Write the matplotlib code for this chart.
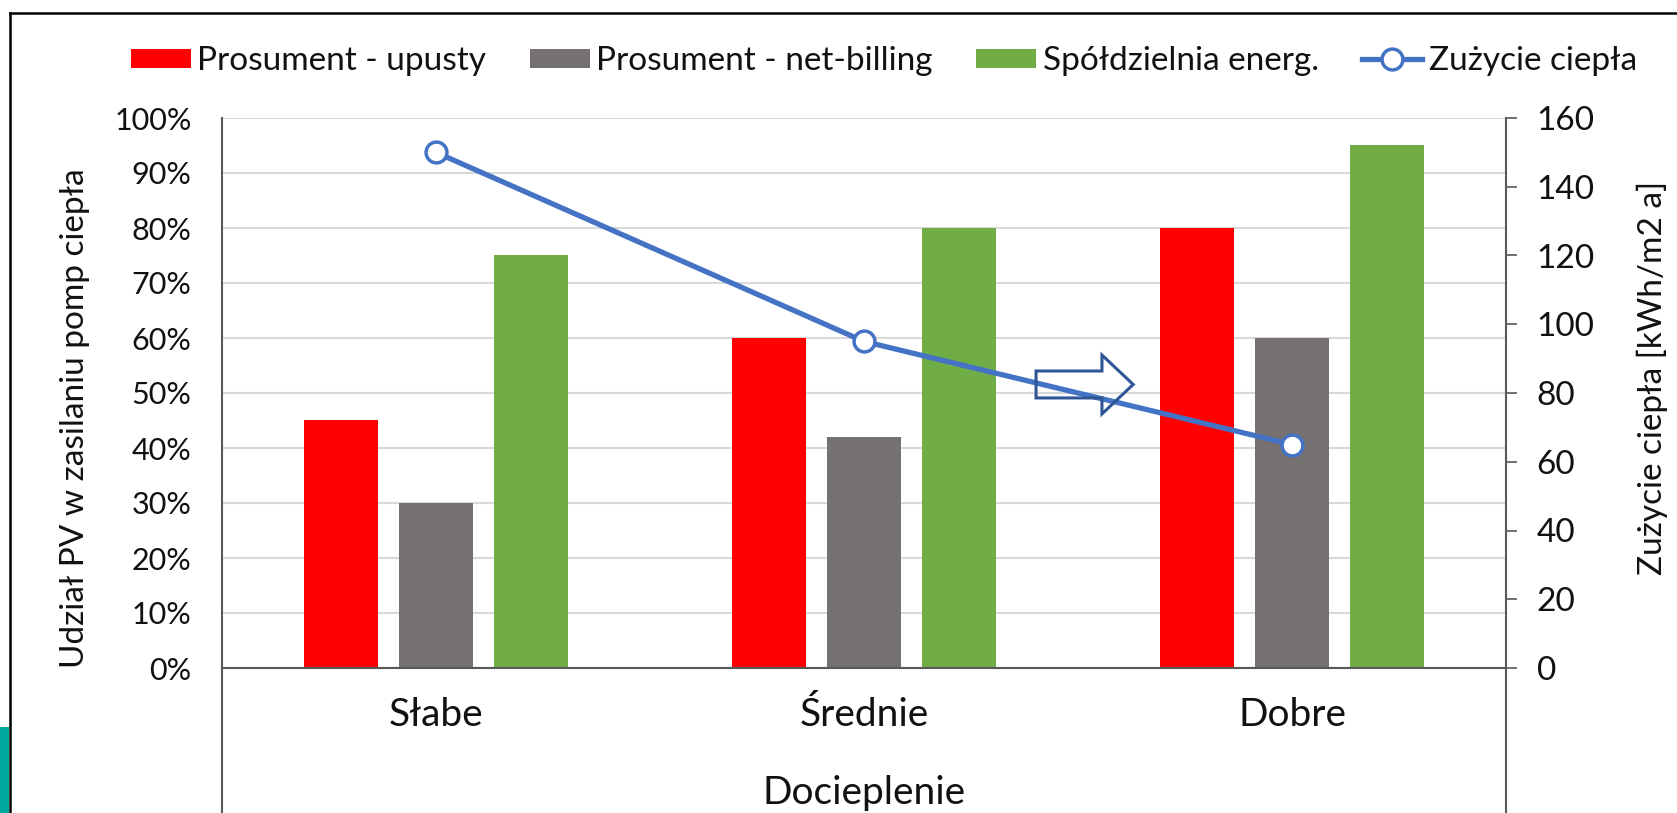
import matplotlib
matplotlib.use("Agg")
import matplotlib.pyplot as plt
import numpy as np
from matplotlib.lines import Line2D
from matplotlib.patches import Rectangle, FancyArrow, Patch
from matplotlib.ticker import FuncFormatter, MultipleLocator

plt.rcParams['font.family'] = ['Lato', 'DejaVu Sans']

categories = ["Słabe", "Średnie", "Dobre"]
prosument_upusty = [0.45, 0.60, 0.80]
prosument_netbilling = [0.30, 0.42, 0.60]
spoldzielnia = [0.75, 0.80, 0.95]
zuzycie_ciepla = [150, 95, 65]
series_names = ["Prosument - upusty", "Prosument - net-billing", "Spółdzielnia energ.", "Zużycie ciepła"]
colors = ["#FF0000", "#767171", "#70AD47"]
line_color = "#4472C4"

W, H = 1677, 813
fig = plt.figure(figsize=(W / 100, H / 100), dpi=100)
ax = fig.add_axes([222 / W, (H - 668) / H, (1506 - 222) / W, (668 - 118) / H])

x = np.arange(len(categories))
bw = 0.173
off = 0.222
for i, (vals, c) in enumerate(zip([prosument_upusty, prosument_netbilling, spoldzielnia], colors)):
    ax.bar(x + (i - 1) * off, vals, width=bw, color=c, zorder=2)

ax.set_xlim(-0.5, 2.5)
ax.set_ylim(0, 1.0)
ax.yaxis.set_major_locator(MultipleLocator(0.1))
ax.yaxis.set_major_formatter(FuncFormatter(lambda v, p: f"{int(round(v * 100))}%"))
ax.grid(axis='y', color='#D9D9D9', linewidth=1.5, zorder=0)
ax.set_axisbelow(True)
ax.set_xticks(x)
ax.set_xticklabels(categories, fontsize=28, color='#111111')
ax.tick_params(axis='x', length=0, pad=21)
ax.tick_params(axis='y', length=0, pad=22, labelsize=22, labelcolor='#111111')
ax.spines['top'].set_visible(False)
ax.spines['right'].set_visible(False)
for s in ['left', 'bottom']:
    ax.spines[s].set_color('#595959')
    ax.spines[s].set_linewidth(1.5)
ax.set_xlabel("Docieplenie", fontsize=28, color='#111111', labelpad=30)
ax.set_ylabel("Udział PV w zasilaniu pomp ciepła", fontsize=24, color='#111111', va='center')
ax.yaxis.set_label_coords((75 - 222) / (1506 - 222), 0.455)

# axis lines continuing below the plot area
ax.plot([0, 0], [0, -0.4], transform=ax.transAxes, color='#595959', lw=1.5, clip_on=False)
ax.plot([1, 1], [0, -0.4], transform=ax.transAxes, color='#595959', lw=1.5, clip_on=False)

ax2 = ax.twinx()
ax2.set_ylim(0, 160)
ax2.yaxis.set_major_locator(MultipleLocator(20))
ax2.plot(x, zuzycie_ciepla, color=line_color, lw=3.8, marker='o', markersize=15,
         markerfacecolor='white', markeredgecolor=line_color, markeredgewidth=2.5, zorder=5)
for s in ['top', 'left', 'bottom']:
    ax2.spines[s].set_visible(False)
ax2.spines['right'].set_color('#595959')
ax2.spines['right'].set_linewidth(1.5)
ax2.tick_params(axis='y', length=8, width=1.2, color='#595959', pad=14, labelsize=24, labelcolor='#111111')
ax2.set_ylabel("Zużycie ciepła [kWh/m2 a]", fontsize=24, color='#111111', va='center')
ax2.yaxis.set_label_coords((1652 - 222) / (1506 - 222), 0.527)

# block arrow annotation (outline only)
arrow = FancyArrow(1.402, 0.5155, 0.227, 0, width=0.049, head_width=0.107, head_length=0.073,
                   length_includes_head=True, transform=ax.transData, facecolor='none',
                   edgecolor='#2F5597', linewidth=2.2, zorder=6)
ax2.add_patch(arrow)

# legend
handles = [Patch(facecolor=c, edgecolor='none') for c in colors]
handles.append(Line2D([0], [0], color=line_color, lw=3.8, marker='o', markersize=15,
                      markerfacecolor='white', markeredgecolor=line_color, markeredgewidth=2.5))
leg = fig.legend(handles, series_names, loc='center', bbox_to_anchor=(884 / W, 1 - 61 / H), ncol=4,
                 frameon=False, fontsize=24, handlelength=1.8, handleheight=0.51,
                 handletextpad=0.2, columnspacing=1.3, borderaxespad=0)
for t in leg.get_texts():
    t.set_color('#111111')

# outer frame (top and left edges visible)
fig.add_artist(Line2D([10 / W, 1.0], [1 - 13 / H, 1 - 13 / H], transform=fig.transFigure, color='black', lw=1.8))
fig.add_artist(Line2D([10 / W, 10 / W], [0, 1 - 13 / H], transform=fig.transFigure, color='black', lw=1.8))
# teal logo fragment at bottom left
fig.add_artist(Rectangle((0, 0), 9 / W, 86 / H, transform=fig.transFigure, color='#00A99D', lw=0))

fig.savefig("out.png", dpi=100)
